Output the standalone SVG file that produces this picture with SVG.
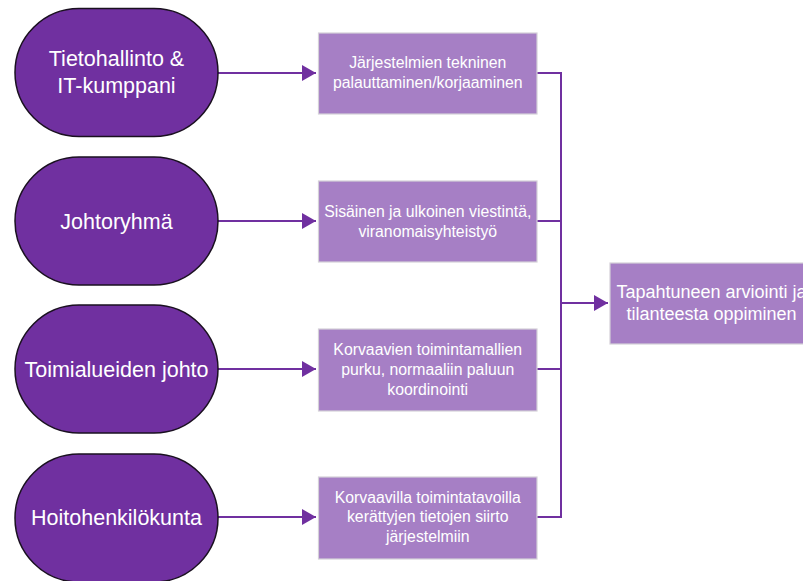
<svg xmlns="http://www.w3.org/2000/svg" width="803" height="581" viewBox="0 0 803 581">
  <style>
    .actor { fill: #7030A0; stroke: #1a1020; stroke-width: 1.5; }
    .task { fill: #A67FC5; stroke: #d4d0d8; stroke-width: 1.2; }
    .actor-label { font-family: "Liberation Sans", Arial, sans-serif; font-size: 21.5px; fill: #ffffff; text-anchor: middle; }
    .task-label { font-family: "Liberation Sans", Arial, sans-serif; font-size: 15.8px; fill: #ffffff; text-anchor: middle; }
    .result-label { font-family: "Liberation Sans", Arial, sans-serif; font-size: 18px; fill: #ffffff; text-anchor: middle; }
    .link { fill: none; stroke: #7030A0; stroke-width: 2; }
  </style>
  <defs>
    <marker id="arrow" markerWidth="8" markerHeight="8" refX="7" refY="4" orient="auto" markerUnits="strokeWidth">
      <path d="M0,0 L7,4 L0,8 Z" fill="#7030A0"/>
    </marker>
  </defs>
  <rect width="803" height="581" fill="#ffffff"/>

  <!-- connectors -->
  <g id="connectors">
    <line class="link" x1="218" y1="73" x2="316" y2="73" marker-end="url(#arrow)"/>
    <line class="link" x1="218" y1="221" x2="316" y2="221" marker-end="url(#arrow)"/>
    <line class="link" x1="218" y1="369" x2="316" y2="369" marker-end="url(#arrow)"/>
    <line class="link" x1="218" y1="517" x2="316" y2="517" marker-end="url(#arrow)"/>
    <polyline class="link" points="537,73 561,73 561,517 537,517"/>
    <line class="link" x1="537" y1="221" x2="561" y2="221"/>
    <line class="link" x1="537" y1="369" x2="561" y2="369"/>
    <line class="link" x1="561" y1="303" x2="608" y2="303" marker-end="url(#arrow)"/>
  </g>

  <!-- responsible parties -->
  <g id="tietohallinto">
    <rect class="actor" x="15" y="8.5" width="203" height="128" rx="64" ry="64"/>
    <text class="actor-label" x="116.5" y="66">Tietohallinto &amp;</text>
    <text class="actor-label" x="116.5" y="93">IT-kumppani</text>
  </g>
  <g id="johtoryhma">
    <rect class="actor" x="15" y="157" width="203" height="128" rx="64" ry="64"/>
    <text class="actor-label" x="116.5" y="228.5">Johtoryhmä</text>
  </g>
  <g id="toimialueiden-johto">
    <rect class="actor" x="15" y="305" width="203" height="128" rx="64" ry="64"/>
    <text class="actor-label" x="116.5" y="376.5">Toimialueiden johto</text>
  </g>
  <g id="hoitohenkilokunta">
    <rect class="actor" x="15" y="454" width="203" height="128" rx="64" ry="64"/>
    <text class="actor-label" x="116.5" y="525">Hoitohenkilökunta</text>
  </g>

  <!-- recovery tasks -->
  <g id="palauttaminen">
    <rect class="task" x="318.5" y="33" width="218.5" height="81"/>
    <text class="task-label" x="427.75" y="68">Järjestelmien tekninen</text>
    <text class="task-label" x="427.75" y="88">palauttaminen/korjaaminen</text>
  </g>
  <g id="viestinta">
    <rect class="task" x="318.5" y="181" width="218.5" height="81"/>
    <text class="task-label" x="427.75" y="216.5">Sisäinen ja ulkoinen viestintä,</text>
    <text class="task-label" x="427.75" y="236.5">viranomaisyhteistyö</text>
  </g>
  <g id="purku">
    <rect class="task" x="318.5" y="329" width="218.5" height="82"/>
    <text class="task-label" x="427.75" y="355">Korvaavien toimintamallien</text>
    <text class="task-label" x="427.75" y="375">purku, normaaliin paluun</text>
    <text class="task-label" x="427.75" y="395">koordinointi</text>
  </g>
  <g id="tietojen-siirto">
    <rect class="task" x="318.5" y="477" width="218.5" height="82"/>
    <text class="task-label" x="427.75" y="502.5">Korvaavilla toimintatavoilla</text>
    <text class="task-label" x="427.75" y="522">kerättyjen tietojen siirto</text>
    <text class="task-label" x="427.75" y="541.5">järjestelmiin</text>
  </g>

  <!-- evaluation -->
  <g id="arviointi">
    <rect class="task" x="610" y="263" width="210" height="81"/>
    <text class="result-label" x="711.5" y="297.5">Tapahtuneen arviointi ja</text>
    <text class="result-label" x="711.5" y="319.5">tilanteesta oppiminen</text>
  </g>
</svg>
